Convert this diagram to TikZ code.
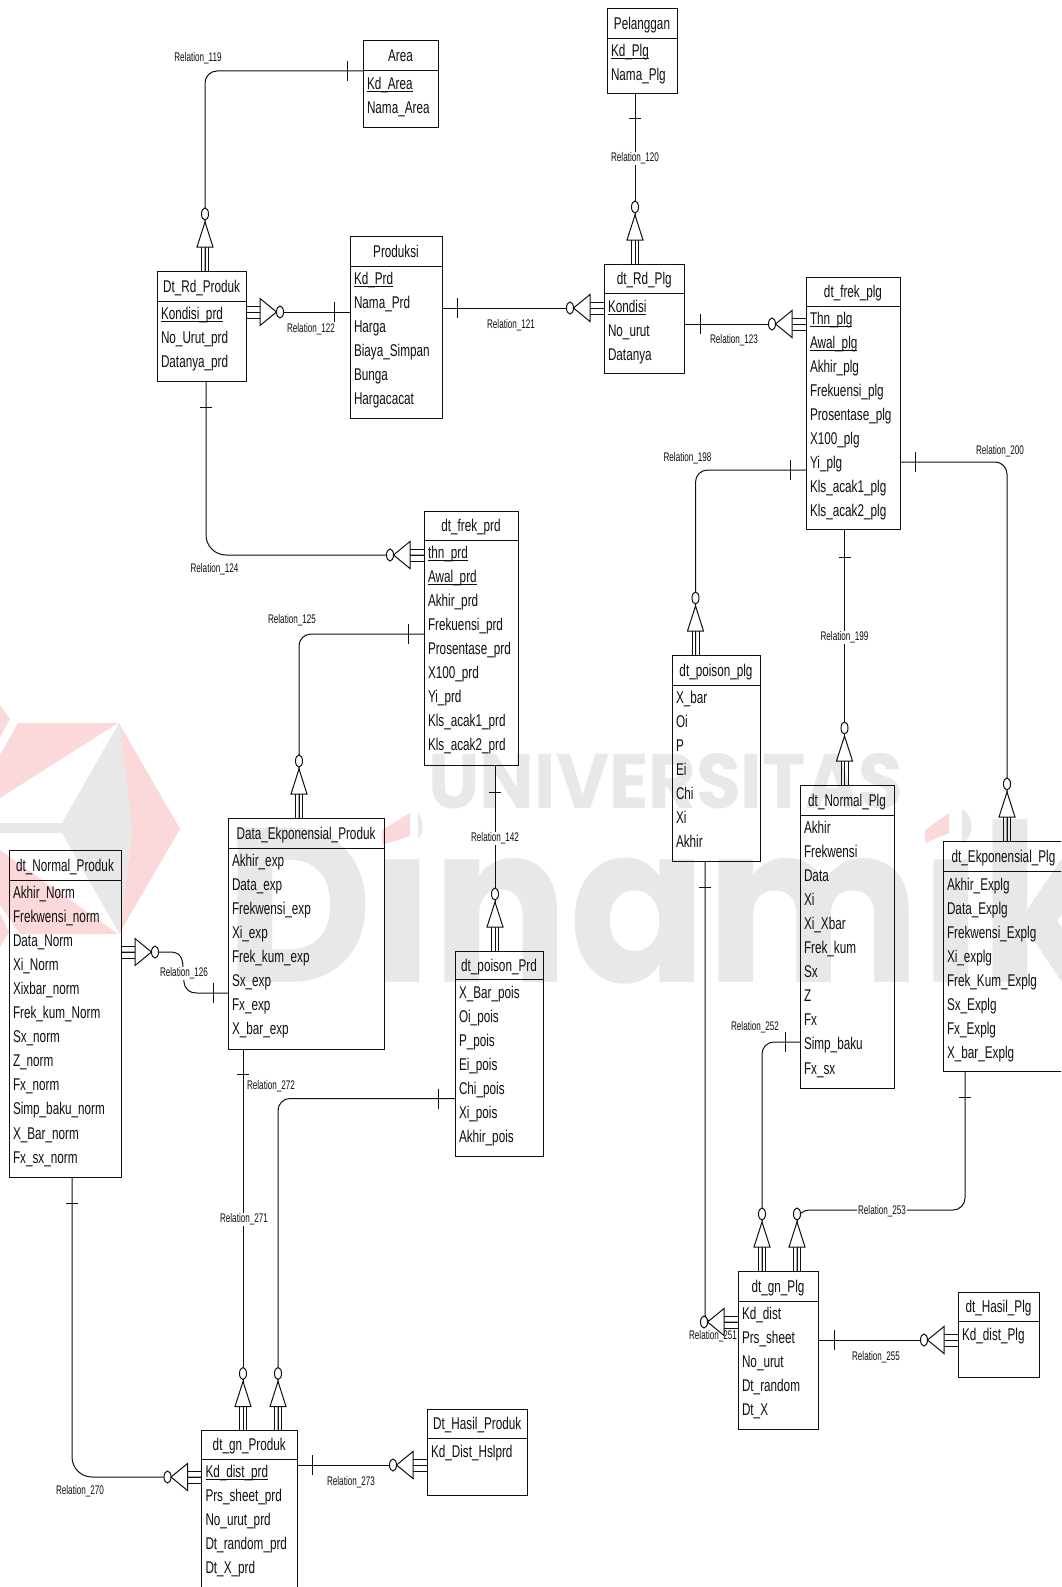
\documentclass[tikz,border=0pt]{standalone}
\usepackage{fontspec}
\setmainfont{Liberation Sans}
\newfontfamily\entfont[FakeStretch=0.69]{Liberation Sans}
\newfontfamily\relfont[FakeStretch=0.65]{Liberation Sans}
\newfontfamily\wmfont{Poppins}
\definecolor{wmgrey}{HTML}{E8E8E8}
\definecolor{wmred}{HTML}{FBD8DA}
\definecolor{ink}{HTML}{101010}
\newcommand{\pk}[1]{\setbox0\hbox{#1}\rlap{\rule[-2.8pt]{\wd0}{1.3pt}}\box0}
\tikzset{
  entbox/.style={draw=ink,rectangle,inner sep=0pt,outer sep=0pt},
  enttext/.style={inner sep=0pt,outer sep=0pt,text=ink,font=\entfont\fontsize{17}{18}\selectfont},
  rellabel/.style={inner sep=1pt,yshift=-1.5pt,text=ink,font=\relfont\fontsize{12.5}{14}\selectfont},
  relcut/.style={rellabel,fill=white},
  crowr/.pic={
    \draw (0,-6)--(14,-6) (0,0)--(14,0) (0,6)--(14,6);
    \draw[fill=white] (14,-13.5)--(14,13.5)--(30.5,0)--cycle;
    \draw[fill=white] (34,0) ellipse [x radius=3.5,y radius=6];},
  crowl/.pic={
    \draw (0,-6)--(-14,-6) (0,0)--(-14,0) (0,6)--(-14,6);
    \draw[fill=white] (-14,-13.5)--(-14,13.5)--(-30.5,0)--cycle;
    \draw[fill=white] (-34,0) ellipse [x radius=3.5,y radius=6];},
  crowu/.pic={
    \draw (-3.5,0)--(-3.5,-24) (0,0)--(0,-24) (3.5,0)--(3.5,-24);
    \draw[fill=white] (-8,-24)--(8,-24)--(0,-49)--cycle;
    \draw[fill=white] (0,-57) ellipse [x radius=3.5,y radius=6];},
  tickv/.pic={\draw (0,-10)--(0,10);},
  tickh/.pic={\draw (-6,0)--(6,0);},
}
% id, x0, y0, x1, y1, yheader, title, yfirst, fields
\newcommand{\entity}[9]{%
  \pgfmathsetmacro{\cxx}{(#2+#4)/2}%
  \pgfmathsetmacro{\cyy}{(#3+#5)/2}%
  \pgfmathsetmacro{\wdd}{#4-#2}%
  \pgfmathsetmacro{\htt}{#5-#3}%
  \pgfmathsetmacro{\tyy}{(#3+#6)/2+6}%
  \node[entbox,minimum width=\wdd pt,minimum height=\htt pt] (#1) at (\cxx,\cyy) {};
  \draw[ink] (#1.west |- 0,#6) -- (#1.east |- 0,#6);
  \node[enttext,anchor=base] (#1-t) at (\cxx,\tyy) {#7};
  \foreach \ff [count=\ii] in {#9} {
    \pgfmathsetmacro{\fyy}{#8+(\ii-1)*24.05+5.5}
    \node[enttext,anchor=base west] (#1-f\ii) at (#2+4,\fyy) {\ff};
  }
}
\begin{document}
\begin{tikzpicture}[x=1pt,y=-1pt,line width=1pt,draw=ink]
\clip (0,0) rectangle (1061,1587);
\fill[white] (0,0) rectangle (1061,1587);
% watermark
\fill[wmred] (119,723)--(180,829)--(119,934)--(132,830)--cycle;
\fill[wmred] (18,723)--(118,723)--(0,798)--(0,755)--cycle;
\fill[wmred] (0,705)--(10,719)--(0,737)--cycle;
\fill[wmred] (0,850)--(118,934)--(20,934)--(0,905)--cycle;
\fill[wmred] (0,913)--(9,932)--(0,947)--cycle;
\fill[wmgrey] (119,723)--(132,828)--(119,933)--(62,833)--(0,833)--(0,823)--(62,823)--cycle;
\node[inner sep=0pt,anchor=base west,text=wmgrey] (wm1) at (428,808) {\resizebox{475pt}{55pt}{\wmfont\bfseries UNIVERSITAS}};
\node[inner sep=0pt,anchor=base west,text=wmgrey] (wm2) at (225,982) {\resizebox{880pt}{176pt}{\wmfont\bfseries Dinamik}};
\fill[white] (378,795) rectangle (418,858);
\fill[white] (920,795) rectangle (962,858);
\fill[wmred] (382,830)--(410,813)--(410,836)--(382,845)--cycle;
\fill[wmred] (925,830)--(949,813)--(949,833)--(925,843)--cycle;
% entities
\entity{pelanggan}{607}{9}{677}{93}{38.5}{Pelanggan}{51}{\pk{Kd\_Plg},Nama\_Plg}
\entity{area}{363}{41}{438}{127}{71}{Area}{84}{\pk{Kd\_Area},Nama\_Area}
\entity{produksi}{350}{236}{442}{418}{266}{Produksi}{279}{\pk{Kd\_Prd},Nama\_Prd,Harga,Biaya\_Simpan,Bunga,Hargacacat}
\entity{rdproduk}{157}{271}{246}{381}{301}{Dt\_Rd\_Produk}{314}{\pk{Kondisi\_prd},No\_Urut\_prd,Datanya\_prd}
\entity{rdplg}{604}{264}{684.5}{373.5}{293.6}{dt\_Rd\_Plg}{307}{\pk{Kondisi},No\_urut,Datanya}
\entity{frekplg}{806}{277.4}{900}{529.5}{306}{dt\_frek\_plg}{319}{\pk{Thn\_plg},\pk{Awal\_plg},Akhir\_plg,Frekuensi\_plg,Prosentase\_plg,X100\_plg,Yi\_plg,Kls\_acak1\_plg,Kls\_acak2\_plg}
\entity{frekprd}{424}{511}{518}{765}{540}{dt\_frek\_prd}{553}{\pk{thn\_prd},\pk{Awal\_prd},Akhir\_prd,Frekuensi\_prd,Prosentase\_prd,X100\_prd,Yi\_prd,Kls\_acak1\_prd,Kls\_acak2\_prd}
\entity{ekpprd}{228}{818}{384}{1049}{848}{Data\_Ekponensial\_Produk}{861}{Akhir\_exp,Data\_exp,Frekwensi\_exp,Xi\_exp,Frek\_kum\_exp,Sx\_exp,Fx\_exp,X\_bar\_exp}
\entity{normprd}{9}{850}{121}{1177}{880}{dt\_Normal\_Produk}{893}{Akhir\_Norm,Frekwensi\_norm,Data\_Norm,Xi\_Norm,Xixbar\_norm,Frek\_kum\_Norm,Sx\_norm,Z\_norm,Fx\_norm,Simp\_baku\_norm,X\_Bar\_norm,Fx\_sx\_norm}
\entity{poisprd}{455}{951}{543}{1156}{979}{dt\_poison\_Prd}{993}{X\_Bar\_pois,Oi\_pois,P\_pois,Ei\_pois,Chi\_pois,Xi\_pois,Akhir\_pois}
\entity{poisplg}{672}{655}{760}{861}{685}{dt\_poison\_plg}{698}{X\_bar,Oi,P,Ei,Chi,Xi,Akhir}
\entity{normplg}{800}{785}{894}{1088}{815}{dt\_Normal\_Plg}{828}{Akhir,Frekwensi,Data,Xi,Xi\_Xbar,Frek\_kum,Sx,Z,Fx,Simp\_baku,Fx\_sx}
\entity{ekpplg}{943}{841}{1064}{1071}{871}{dt\_Ekponensial\_Plg}{885}{Akhir\_Explg,Data\_Explg,Frekwensi\_Explg,Xi\_explg,Frek\_Kum\_Explg,Sx\_Explg,Fx\_Explg,X\_bar\_Explg}
\entity{gnplg}{738}{1271}{818}{1429}{1301}{dt\_gn\_Plg}{1314}{Kd\_dist,Prs\_sheet,No\_urut,Dt\_random,Dt\_X}
\entity{hasilplg}{958}{1292}{1039}{1377}{1321}{dt\_Hasil\_Plg}{1335}{Kd\_dist\_Plg}
\entity{gnprd}{201.5}{1430.5}{297}{1590}{1459}{dt\_gn\_Produk}{1472}{\pk{Kd\_dist\_prd},Prs\_sheet\_prd,No\_urut\_prd,Dt\_random\_prd,Dt\_X\_prd}
\entity{hasilprd}{427}{1409}{527.5}{1495}{1438.6}{Dt\_Hasil\_Produk}{1452}{Kd\_Dist\_Hslprd}
% connectors
\draw[rounded corners=12pt] (area.west |- 0,71) -- (205,71) -- (rdproduk.north -| 205,0);
\pic at (347,71) {tickv};
\pic at (rdproduk.north -| 205,0) {crowu};
\node[rellabel] (r119) at (198,57) {Relation\_119};

\draw (produksi.west |- 0,312) -- (rdproduk.east |- 0,312);
\pic at (334,312) {tickv};
\pic at (rdproduk.east |- 0,312) {crowr};
\node[rellabel] (r122) at (311,328) {Relation\_122};

\draw (produksi.east |- 0,308) -- (rdplg.west |- 0,308);
\pic at (457,308) {tickv};
\pic at (rdplg.west |- 0,308) {crowl};
\node[rellabel] (r121) at (511,324) {Relation\_121};

\draw (pelanggan.south -| 635,0) -- (rdplg.north -| 635,0);
\pic at (635,118.5) {tickh};
\pic at (rdplg.north -| 635,0) {crowu};
\node[relcut] (r120) at (635,157) {Relation\_120};

\draw (rdplg.east |- 0,324) -- (frekplg.west |- 0,324);
\pic at (700.5,324) {tickv};
\pic at (frekplg.west |- 0,324) {crowl};
\node[rellabel] (r123) at (734,339) {Relation\_123};

\draw[rounded corners=20pt] (rdproduk.south -| 206,0) -- (206,555) -- (frekprd.west |- 0,555);
\pic at (206,407) {tickh};
\pic at (frekprd.west |- 0,555) {crowl};
\node[rellabel] (r124) at (214.5,568) {Relation\_124};

\draw[rounded corners=12pt] (frekprd.west |- 0,634) -- (299,634) -- (ekpprd.north -| 299,0);
\pic at (408,634) {tickv};
\pic at (ekpprd.north -| 299,0) {crowu};
\node[rellabel] (r125) at (292,619) {Relation\_125};

\draw (frekprd.south -| 495,0) -- (poisprd.north -| 495,0);
\pic at (495,792) {tickh};
\pic at (poisprd.north -| 495,0) {crowu};
\node[relcut] (r142) at (495,837) {Relation\_142};

\draw (normprd.east |- 0,952) -- (170,952) .. controls (180,952) and (183,958) .. (183,968) -- (184,982) .. controls (185,990) and (190,993) .. (197,993) -- (ekpprd.west |- 0,993);
\pic at (213,993) {tickv};
\pic at (normprd.east |- 0,952) {crowr};
\node[relcut] (r126) at (184,972) {Relation\_126};

\draw[rounded corners=12pt] (frekplg.west |- 0,470) -- (695.5,470) -- (poisplg.north -| 695.5,0);
\pic at (790.7,470) {tickv};
\pic at (poisplg.north -| 695.5,0) {crowu};
\node[rellabel] (r198) at (687.5,456.6) {Relation\_198};

\draw (frekplg.south -| 844.5,0) -- (normplg.north -| 844.5,0);
\pic at (844.5,557) {tickh};
\pic at (normplg.north -| 844.5,0) {crowu};
\node[relcut] (r199) at (844.5,636) {Relation\_199};

\draw[rounded corners=12pt] (frekplg.east |- 0,462) -- (1007,462) -- (ekpplg.north -| 1007,0);
\pic at (915,462) {tickv};
\pic at (ekpplg.north -| 1007,0) {crowu};
\node[rellabel] (r200) at (1000,449.5) {Relation\_200};

\draw[rounded corners=8pt] (gnplg.west |- 0,1322) -- (705,1322) -- (poisplg.south -| 705,0);
\pic at (705,887) {tickh};
\pic at (gnplg.west |- 0,1322) {crowl};
\node[rellabel] (r251) at (713,1335) {Relation\_251};

\draw[rounded corners=12pt] (normplg.west |- 0,1042) -- (762,1042) -- (gnplg.north -| 762,0);
\pic at (785.6,1042) {tickv};
\pic at (gnplg.north -| 762,0) {crowu};
\node[rellabel] (r252) at (755,1026) {Relation\_252};

\draw[rounded corners=12pt] (ekpplg.south -| 965,0) -- (965,1210) -- (797,1210) -- (gnplg.north -| 797,0);
\pic at (965,1097.5) {tickh};
\pic at (gnplg.north -| 797,0) {crowu};
\node[relcut] (r253) at (882,1210) {Relation\_253};

\draw (gnplg.east |- 0,1340) -- (hasilplg.west |- 0,1340);
\pic at (834,1340) {tickv};
\pic at (hasilplg.west |- 0,1340) {crowl};
\node[rellabel] (r255) at (876,1356) {Relation\_255};

\draw[rounded corners=20pt] (normprd.south -| 72,0) -- (72,1477) -- (gnprd.west |- 0,1477);
\pic at (72,1203) {tickh};
\pic at (gnprd.west |- 0,1477) {crowl};
\node[rellabel] (r270) at (80,1490) {Relation\_270};

\draw (ekpprd.south -| 243,0) -- (gnprd.north -| 243,0);
\pic at (243,1074) {tickh};
\pic at (gnprd.north -| 243,0) {crowu};
\node[relcut] (r271) at (244,1218) {Relation\_271};

\draw[rounded corners=12pt] (poisprd.west |- 0,1098.5) -- (278,1098.5) -- (gnprd.north -| 278,0);
\pic at (438,1098.5) {tickv};
\pic at (gnprd.north -| 278,0) {crowu};
\node[rellabel] (r272) at (271,1085) {Relation\_272};

\draw (gnprd.east |- 0,1465) -- (hasilprd.west |- 0,1465);
\pic at (312,1465) {tickv};
\pic at (hasilprd.west |- 0,1465) {crowl};
\node[rellabel] (r273) at (351,1481) {Relation\_273};
\end{tikzpicture}
\end{document}
